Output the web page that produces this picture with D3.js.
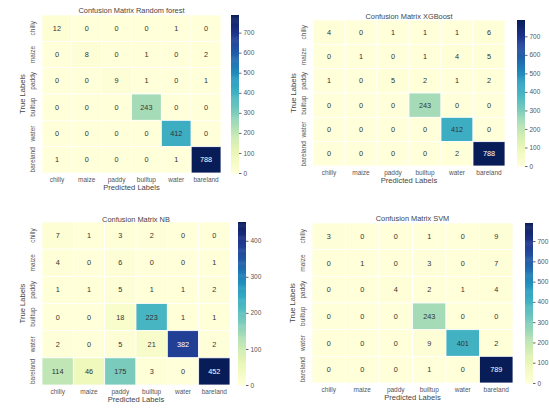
<!DOCTYPE html>
<html><head><meta charset="utf-8">
<script src="https://cdn.jsdelivr.net/npm/d3@7"></script>
<style>body{margin:0;background:#fff}svg{display:block;font-family:"Liberation Sans",Arial,sans-serif}</style>
</head><body><svg id="c" width="549" height="408"></svg>
<script>
const classes = ["chilly","maize","paddy","builtup","water","bareland"];
const titles = ["Confusion Matrix Random forest","Confusion Matrix XGBoost","Confusion Matrix NB","Confusion Matrix SVM"];
const rfValues = [[12,0,0,0,1,0],[0,8,0,1,0,2],[0,0,9,1,0,1],[0,0,0,243,0,0],[0,0,0,0,412,0],[1,0,0,0,1,788]];
const xgbValues = [[4,0,1,1,1,6],[0,1,0,1,4,5],[1,0,5,2,1,2],[0,0,0,243,0,0],[0,0,0,0,412,0],[0,0,0,0,2,788]];
const nbValues = [[7,1,3,2,0,0],[4,0,6,0,0,1],[1,1,5,1,1,2],[0,0,18,223,1,1],[2,0,5,21,382,2],[114,46,175,3,0,452]];
const svmValues = [[3,0,0,1,0,9],[0,1,0,3,0,7],[0,0,4,2,1,4],[0,0,0,243,0,0],[0,0,0,9,401,2],[0,0,0,1,0,789]];
const rfTicks = [0,100,200,300,400,500,600,700];
const xgbTicks = [0,100,200,300,400,500,600,700];
const nbTicks = [0,100,200,300,400];
const svmTicks = [0,100,200,300,400,500,600,700];

const svg = d3.select("#c");
const layouts = [
  {x0:42,x1:221,y0:15,y1:173,cb:231,title:10,values:rfValues,ticks:rfTicks},
  {x0:313,x1:505,y0:20,y1:166,cb:517,title:16,values:xgbValues,ticks:xgbTicks},
  {x0:42,x1:230,y0:222,y1:385,cb:238,title:219,values:nbValues,ticks:nbTicks},
  {x0:312,x1:513,y0:223,y1:383,cb:525,title:218,values:svmValues,ticks:svmTicks}
];

layouts.forEach((L,i)=>{
  const vals = L.values;
  const vmax = d3.max(vals.flat());
  const color = d3.scaleSequential(d3.interpolateYlGnBu).domain([0,vmax]);
  const x = d3.scaleBand().domain(classes).range([L.x0,L.x1]);
  const y = d3.scaleBand().domain(classes).range([L.y0,L.y1]);
  const g = svg.append("g");
  const cells = [];
  vals.forEach((row,r)=>row.forEach((v,c)=>cells.push({r:classes[r],c:classes[c],v})));
  g.selectAll("rect.cell").data(cells).join("rect")
    .attr("x",d=>x(d.c)).attr("y",d=>y(d.r))
    .attr("width",x.bandwidth()).attr("height",y.bandwidth())
    .attr("fill",d=>color(d.v)).attr("stroke","#fff").attr("stroke-width",0.8);
  g.selectAll("text.ann").data(cells).join("text")
    .attr("x",d=>x(d.c)+x.bandwidth()/2).attr("y",d=>y(d.r)+y.bandwidth()/2)
    .attr("text-anchor","middle").attr("dominant-baseline","central")
    .attr("font-size",7.3)
    .attr("fill",d=>(d3.lab(color(d.v)).l<55)?"#fff":"#333")
    .text(d=>d.v);
  g.selectAll("text.xt").data(classes).join("text")
    .attr("x",d=>x(d)+x.bandwidth()/2).attr("y",L.y1+8.5)
    .attr("text-anchor","middle").attr("font-size",6.5).attr("fill","#555").text(d=>d);
  g.selectAll("text.yt").data(classes).join("text")
    .attr("transform",d=>`translate(${L.x0-7},${y(d)+y.bandwidth()/2}) rotate(-90)`)
    .attr("text-anchor","middle").attr("font-size",6.5).attr("fill","#555").text(d=>d);
  g.append("text").attr("x",(L.x0+L.x1)/2).attr("y",L.y1+17).attr("text-anchor","middle")
    .attr("font-size",7.6).attr("fill","#444").text("Predicted Labels");
  g.append("text").attr("transform",`translate(${L.x0-17},${(L.y0+L.y1)/2}) rotate(-90)`)
    .attr("text-anchor","middle").attr("font-size",7.6).attr("fill","#444").text("True Labels");
  g.append("text").attr("x",(L.x0+L.x1)/2).attr("y",L.title+3).attr("text-anchor","middle")
    .attr("font-size",7.4).attr("fill","#444").text(titles[i]);
  const cy = d3.scaleLinear().domain([0,vmax]).range([L.y1,L.y0]);
  const steps = d3.range(0,vmax,vmax/150);
  g.selectAll("rect.cb").data(steps).join("rect")
    .attr("x",L.cb).attr("width",8)
    .attr("y",d=>cy(Math.min(vmax,d+vmax/150))).attr("height",d=>cy(d)-cy(Math.min(vmax,d+vmax/150))+0.5)
    .attr("fill",d=>color(d));
  const ax = g.append("g").attr("transform",`translate(${L.cb+8},0)`)
    .call(d3.axisRight(cy).tickValues(L.ticks).tickSize(2.5).tickPadding(2));
  ax.select(".domain").remove();
  ax.selectAll("line").attr("stroke","#666");
  ax.selectAll("text").attr("font-size",6.5).attr("fill","#555").attr("font-family","Liberation Sans, Arial, sans-serif");
});
</script></body></html>
